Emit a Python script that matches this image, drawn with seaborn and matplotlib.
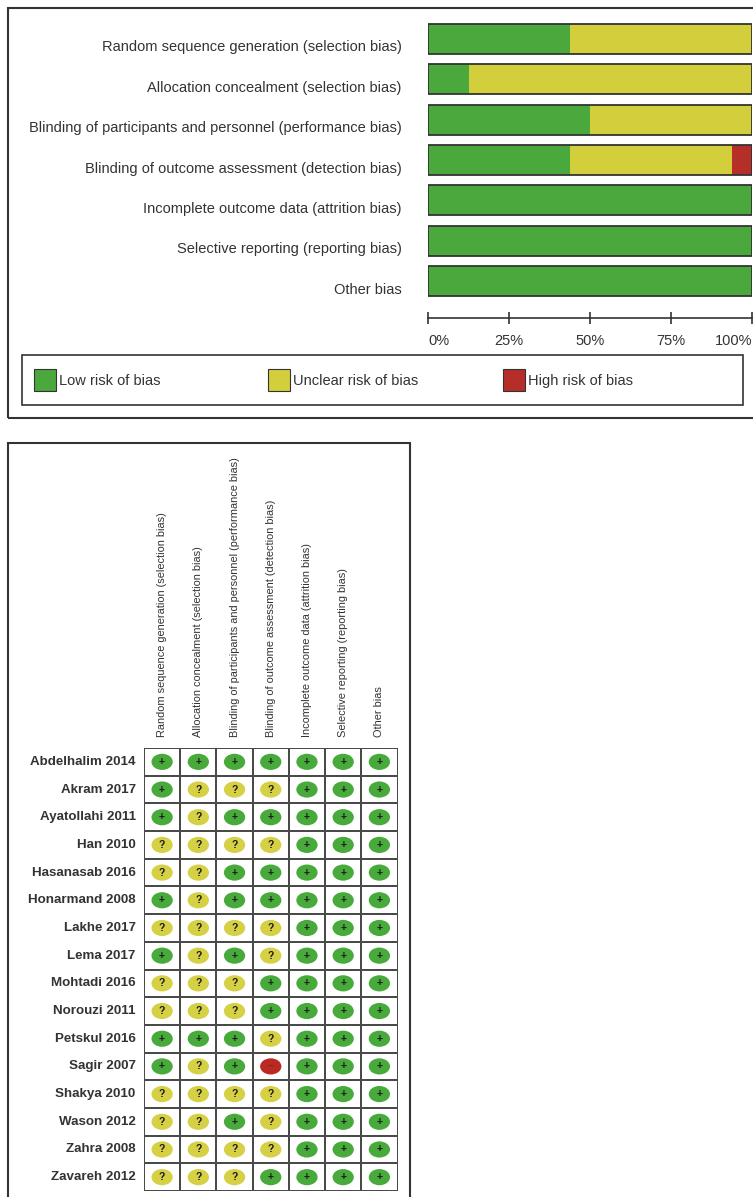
import numpy as np
import pandas as pd
import matplotlib
matplotlib.use("Agg")
import matplotlib.pyplot as plt
from matplotlib.patches import Rectangle, Patch
from matplotlib.path import Path
from matplotlib.colors import ListedColormap
from matplotlib.transforms import ScaledTranslation
import seaborn as sns

# --- data ---
domains = [
    "Random sequence generation (selection bias)",
    "Allocation concealment (selection bias)",
    "Blinding of participants and personnel (performance bias)",
    "Blinding of outcome assessment (detection bias)",
    "Incomplete outcome data (attrition bias)",
    "Selective reporting (reporting bias)",
    "Other bias",
]
studies = [
    "Abdelhalim 2014", "Akram 2017", "Ayatollahi 2011", "Han 2010",
    "Hasanasab 2016", "Honarmand 2008", "Lakhe 2017", "Lema 2017",
    "Mohtadi 2016", "Norouzi 2011", "Petskul 2016", "Sagir 2007",
    "Shakya 2010", "Wason 2012", "Zahra 2008", "Zavareh 2012",
]
# one string per study, one letter per domain: L low, U unclear, H high
judgements = [
    "LLLLLLL", "LUUULLL", "LULLLLL", "UUUULLL",
    "UULLLLL", "LULLLLL", "UUUULLL", "LULULLL",
    "UUULLLL", "UUULLLL", "LLLULLL", "LULHLLL",
    "UUUULLL", "UULULLL", "UUUULLL", "UUULLLL",
]
legend_labels = ["Low risk of bias", "Unclear risk of bias", "High risk of bias"]
tick_vals = [0, 25, 50, 75, 100]
tick_labels = ["0%", "25%", "50%", "75%", "100%"]

GREEN = "#4aa83c"
YELLOW = "#d3cf3c"
RED = "#b52f28"
DARK = "#333333"

sns.set_theme(style="ticks")
plt.rcParams["font.family"] = ["Liberation Sans", "DejaVu Sans"]

n = len(studies)
low = [100 * sum(j[k] == "L" for j in judgements) / n for k in range(len(domains))]
unc = [100 * sum(j[k] == "U" for j in judgements) / n for k in range(len(domains))]
high = [100 * sum(j[k] == "H" for j in judgements) / n for k in range(len(domains))]
bars = pd.DataFrame({
    "domain": domains,
    "low": low,
    "low_unc": np.add(low, unc),
    "total": np.add(np.add(low, unc), high),
})

fig = plt.figure(figsize=(7.53, 11.97), dpi=100)
W, H = 753, 1197

# outer frames
fig.patches.append(Rectangle((8 / W, 1 - 418 / H), 2, 410 / H, transform=fig.transFigure,
                             fill=False, edgecolor=DARK, linewidth=1.5))
fig.patches.append(Rectangle((8 / W, -0.05), (410 - 8) / W, (1197 - 443) / H + 0.05,
                             transform=fig.transFigure, fill=False, edgecolor=DARK, linewidth=1.5))
# legend frame
fig.patches.append(Rectangle((22 / W, 1 - 405 / H), 721 / W, 50 / H, transform=fig.transFigure,
                             fill=False, edgecolor=DARK, linewidth=1.2))

# --- top: risk of bias graph ---
ax1 = fig.add_axes([428 / W, 1 - 301.2 / H, 324 / W, 282.4 / H])
sns.barplot(data=bars, x="total", y="domain", color=RED, saturation=1, width=0.74,
            orient="h", ax=ax1, linewidth=0)
sns.barplot(data=bars, x="low_unc", y="domain", color=YELLOW, saturation=1, width=0.74,
            orient="h", ax=ax1, linewidth=0)
sns.barplot(data=bars, x="low", y="domain", color=GREEN, saturation=1, width=0.74,
            orient="h", ax=ax1, linewidth=0)
sns.barplot(data=bars, x="total", y="domain", color=DARK, fill=False, width=0.74,
            orient="h", ax=ax1, linewidth=1.3)
ax1.set_xlim(0, 100)
ax1.set_xlabel("")
ax1.set_ylabel("")
for s in ["left", "top", "right"]:
    ax1.spines[s].set_visible(False)
ax1.spines["bottom"].set_position(("outward", 12))
ax1.spines["bottom"].set_color(DARK)
ax1.spines["bottom"].set_linewidth(1.2)
ax1.set_xticks(tick_vals)
ax1.set_xticklabels(tick_labels)
ax1.tick_params(axis="x", direction="inout", length=9, width=1.2, color=DARK,
                labelsize=10.5, labelcolor=DARK, pad=7)
ax1.get_xticklabels()[0].set_ha("left")
ax1.get_xticklabels()[-1].set_ha("right")
ax1.tick_params(axis="y", length=0, pad=19, labelsize=10.5, labelcolor=DARK)
for lbl in ax1.get_yticklabels():
    lbl.set_transform(lbl.get_transform() + ScaledTranslation(0, -0.07, fig.dpi_scale_trans))

# legend entries, evenly spaced from the left
for lab, col, x0 in zip(legend_labels, [GREEN, YELLOW, RED], [34, 268, 503]):
    fig.legend([Patch(facecolor=col, edgecolor=DARK, linewidth=0.8)], [lab],
               loc="center left", bbox_to_anchor=(x0 / W, 1 - 380 / H),
               frameon=False, fontsize=10.5, handlelength=1.5, handleheight=2.0,
               handletextpad=0.2, borderpad=0, borderaxespad=0, labelcolor=DARK)

# --- bottom: risk of bias summary ---
ax2 = fig.add_axes([144 / W, 1 - 1191 / H, 253.5 / W, 443 / H])
sns.heatmap(np.zeros((n, len(domains))), cmap=ListedColormap(["white"]), cbar=False,
            linewidths=1.2, linecolor="#4a4a4a", xticklabels=domains, yticklabels=studies,
            ax=ax2)

cells = pd.DataFrame([
    {"x": k + 0.5, "y": i + 0.5, "j": code}
    for i, row in enumerate(judgements) for k, code in enumerate(row)
])
circle = Path.unit_circle()
ellipse = Path(circle.vertices * [1, 0.76], circle.codes)
sns.scatterplot(data=cells, x="x", y="y", hue="j",
                palette={"L": "#47aa3b", "U": "#d6d044", "H": "#bb2a22"},
                marker=ellipse, s=235, linewidth=0, legend=False, ax=ax2)
symbols = {"L": "+", "U": "?", "H": "\u2013"}
for _, c in cells.iterrows():
    ax2.text(c["x"], c["y"], symbols[c["j"]], ha="center", va="center",
             fontsize=7.5, fontweight="bold", color="#1a1a1a" if c["j"] != "H" else "#8a2018")
ax2.set_xlim(0, len(domains))
ax2.set_ylim(n, 0)
ax2.set_xlabel("")
ax2.set_ylabel("")
ax2.xaxis.tick_top()
ax2.tick_params(axis="x", length=0, pad=8, labelsize=7.9, labelcolor=DARK)
plt.setp(ax2.get_xticklabels(), rotation=90, ha="center", va="bottom")
ax2.tick_params(axis="y", length=0, pad=6, labelsize=9.6, labelcolor=DARK)
plt.setp(ax2.get_yticklabels(), rotation=0, fontweight="bold")

fig.savefig("out.png", dpi=100)
